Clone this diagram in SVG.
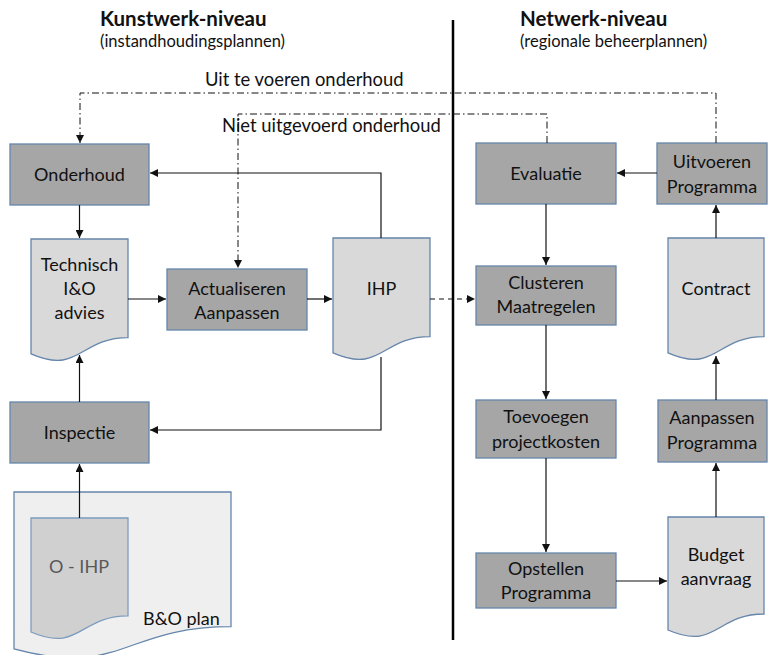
<svg xmlns="http://www.w3.org/2000/svg" width="768" height="655" viewBox="0 0 768 655">
<style>
text{font-family:Lato,"Open Sans","Liberation Sans",sans-serif;fill:#111;}
.t{font-size:18px;text-anchor:middle;}
.h{font-size:20.5px;font-weight:bold;}
.s{font-size:16.5px;}
.l{font-size:18.4px;}
.box{fill:#a6a6a6;stroke:#6585ab;stroke-width:1.3;}
.doc{fill:#d9d9d9;stroke:#6585ab;stroke-width:1.3;}
.c{fill:none;stroke:#111;stroke-width:1.2;}
.dd{fill:none;stroke:#111;stroke-width:1;stroke-dasharray:7 3 1.5 3;}
.da{fill:none;stroke:#111;stroke-width:1.2;stroke-dasharray:5 4;}
</style>
<defs>
<marker id="a" viewBox="0 0 10 10" refX="10" refY="5" markerWidth="8" markerHeight="8" markerUnits="userSpaceOnUse" orient="auto">
<path d="M0,0 L10,5 L0,10 Z" fill="#111"/>
</marker>
</defs>
<rect width="768" height="655" fill="#fff"/>
<g id="headers">
<text class="h" x="100" y="26">Kunstwerk-niveau</text>
<text class="s" x="100" y="47">(instandhoudingsplannen)</text>
<text class="h" x="520" y="26">Netwerk-niveau</text>
<text class="s" x="520" y="47">(regionale beheerplannen)</text>
<line x1="453" y1="20" x2="453" y2="640" stroke="#000" stroke-width="2.5"/>
</g>
<g id="bo-plan">
<path class="doc" style="fill:#efefef" d="M14,492 H231 V626.7 C122.5,626.7 122.5,678.1 14,648.9 Z"/>
<text class="t" style="text-anchor:start" x="143" y="625">B&amp;O plan</text>
</g>
<g id="o-ihp">
<path class="doc" style="fill:#d0d0d0;stroke:#7d9cbf" d="M31,518 H128 V615.8 C79.5,615.8 79.5,653.1 31,632 Z"/>
<text class="t" style="fill:#595959" x="79" y="573">O - IHP</text>
</g>
<g id="onderhoud">
<rect class="box" x="10" y="144" width="139" height="61"/>
<text class="t" x="79.5" y="181">Onderhoud</text>
</g>
<g id="technisch">
<path class="doc" d="M31,239 H128 V337.6 C79.5,337.6 79.5,375.2 31,353.9 Z"/>
<text class="t" x="79.5" y="271">Technisch</text>
<text class="t" x="79.5" y="295">I&amp;O</text>
<text class="t" x="79.5" y="319">advies</text>
</g>
<g id="actualiseren">
<rect class="box" x="167" y="269" width="140" height="61"/>
<text class="t" x="237" y="295">Actualiseren</text>
<text class="t" x="237" y="319">Aanpassen</text>
</g>
<g id="ihp">
<path class="doc" d="M333,238 H430 V336.6 C381.5,336.6 381.5,374.2 333,352.9 Z"/>
<text class="t" x="381.5" y="295">IHP</text>
</g>
<g id="inspectie">
<rect class="box" x="10" y="402" width="139" height="61"/>
<text class="t" x="79.5" y="439">Inspectie</text>
</g>
<g id="evaluatie">
<rect class="box" x="476" y="143" width="140" height="61"/>
<text class="t" x="546" y="180">Evaluatie</text>
</g>
<g id="uitvoeren">
<rect class="box" x="657" y="143" width="110" height="61"/>
<text class="t" x="712" y="168">Uitvoeren</text>
<text class="t" x="712" y="193">Programma</text>
</g>
<g id="clusteren">
<rect class="box" x="476" y="266" width="140" height="59"/>
<text class="t" x="546" y="289">Clusteren</text>
<text class="t" x="546" y="313">Maatregelen</text>
</g>
<g id="contract">
<path class="doc" d="M668,238 H764 V336.6 C716,336.6 716,374.2 668,352.9 Z"/>
<text class="t" x="716" y="295">Contract</text>
</g>
<g id="toevoegen">
<rect class="box" x="476" y="400" width="140" height="58"/>
<text class="t" x="546" y="423">Toevoegen</text>
<text class="t" x="546" y="448">projectkosten</text>
</g>
<g id="aanpassen">
<rect class="box" x="658" y="400" width="109" height="62"/>
<text class="t" x="712" y="424">Aanpassen</text>
<text class="t" x="712" y="449">Programma</text>
</g>
<g id="opstellen">
<rect class="box" x="476" y="553" width="140" height="55"/>
<text class="t" x="546" y="575">Opstellen</text>
<text class="t" x="546" y="599">Programma</text>
</g>
<g id="budget">
<path class="doc" d="M668,517 H764 V614 C716,614 716,651 668,630 Z"/>
<text class="t" x="716" y="561">Budget</text>
<text class="t" x="716" y="585">aanvraag</text>
</g>
<g id="connectors">
<path class="dd" d="M716,143 V93 H80 V143" marker-end="url(#a)"/>
<text class="l" x="205" y="86">Uit te voeren onderhoud</text>
<path class="dd" d="M547,143 V114 H238 V268" marker-end="url(#a)"/>
<text class="l" x="222" y="132">Niet uitgevoerd onderhoud</text>
<path class="c" d="M381,238 V173 H150" marker-end="url(#a)"/>
<path class="c" d="M79.5,205 V238" marker-end="url(#a)"/>
<path class="c" d="M128,299 H166" marker-end="url(#a)"/>
<path class="c" d="M307,299 H332" marker-end="url(#a)"/>
<path class="da" d="M430,299 H475" marker-end="url(#a)"/>
<path class="c" d="M381,357 V430 H150" marker-end="url(#a)"/>
<path class="c" d="M79.5,402 V355" marker-end="url(#a)"/>
<path class="c" d="M79.5,518 V464" marker-end="url(#a)"/>
<path class="c" d="M657,173 H617" marker-end="url(#a)"/>
<path class="c" d="M546,204 V265" marker-end="url(#a)"/>
<path class="c" d="M546,325 V399" marker-end="url(#a)"/>
<path class="c" d="M546,458 V552" marker-end="url(#a)"/>
<path class="c" d="M616,581 H667" marker-end="url(#a)"/>
<path class="c" d="M716,517 V463" marker-end="url(#a)"/>
<path class="c" d="M716,400 V356" marker-end="url(#a)"/>
<path class="c" d="M716,238 V205" marker-end="url(#a)"/>
</g>
</svg>
